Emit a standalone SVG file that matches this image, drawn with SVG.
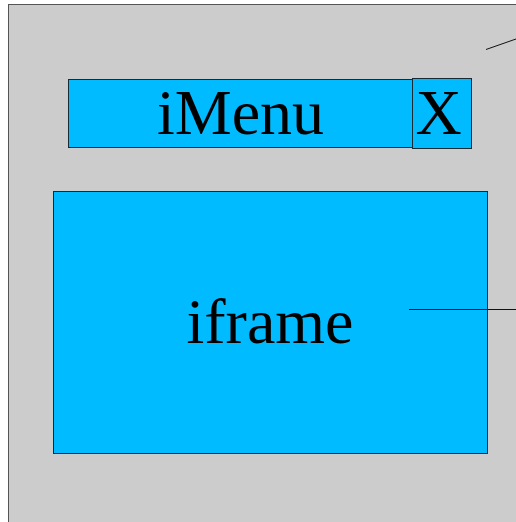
<svg xmlns="http://www.w3.org/2000/svg" width="516" height="522" viewBox="0 0 516 522">
<style>
.box{fill:#00bbff;stroke:#1a2a33;stroke-width:1}
.lbl{font-family:"Liberation Serif",serif;fill:#000;text-anchor:middle;font-size:64px}
.ln{stroke:#111;stroke-width:1;fill:none}
</style>
<rect id="page" x="8.5" y="4.5" width="520" height="530" fill="#cccccc" stroke="#555" stroke-width="1"/>
<g id="imenu">
<rect class="box" x="68.5" y="79.5" width="344" height="68"/>
<text class="lbl" x="240.5" y="133.5">iMenu</text>
</g>
<g id="close">
<rect class="box" x="412.5" y="78.5" width="59" height="70"/>
<text class="lbl" x="438.5" y="133.5">X</text>
</g>
<g id="iframe">
<rect class="box" x="53.5" y="191.5" width="434" height="262"/>
<text class="lbl" x="270" y="342.5">iframe</text>
</g>
<g id="connectors">
<line class="ln" x1="486" y1="49.5" x2="516" y2="39"/>
<line class="ln" x1="409" y1="309.5" x2="516" y2="309.5"/>
</g>
</svg>
